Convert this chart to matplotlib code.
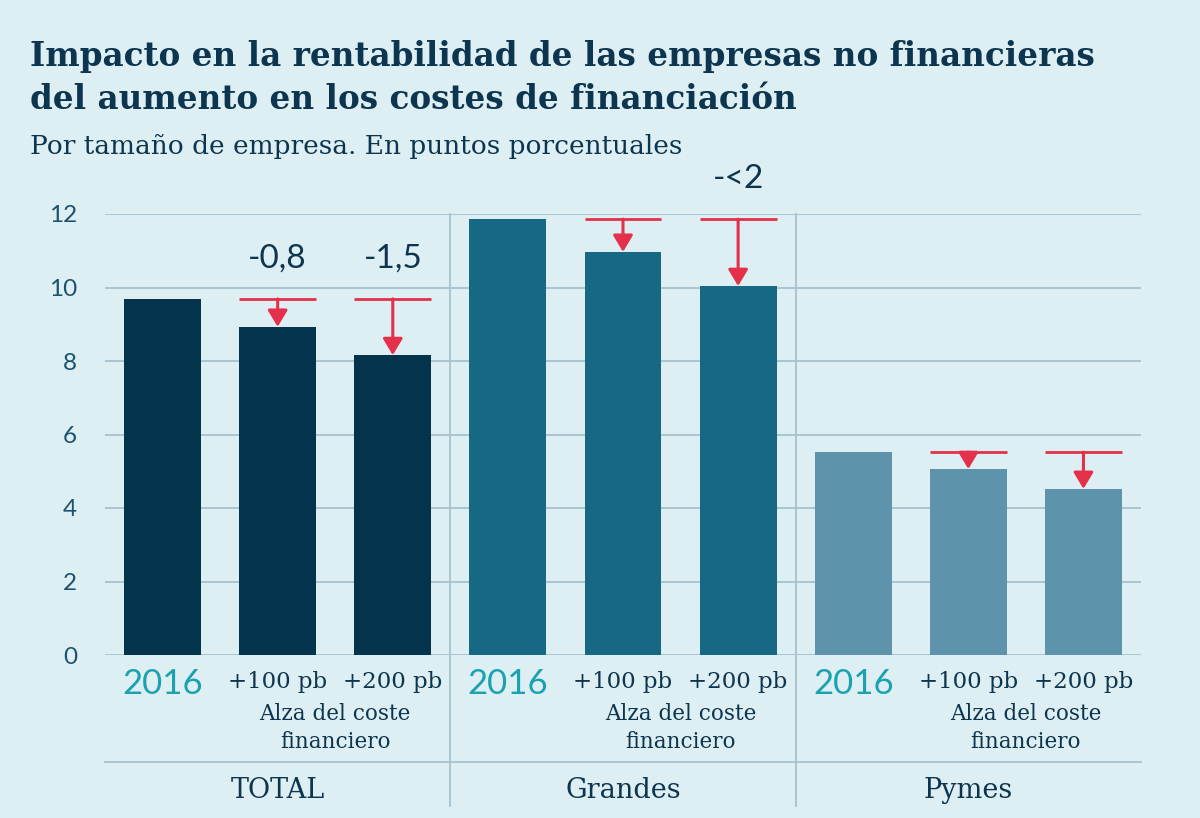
import numpy as np
import matplotlib.pyplot as plt

# values
groups = ['TOTAL', 'Grandes', 'Pymes']
scenarios = ['2016', '+100 pb', '+200 pb']
base_2016 = [9.69, 11.86, 5.52]
plus_100 = [8.93, 10.97, 5.06]
plus_200 = [8.16, 10.04, 4.52]
drop_labels = [['-0,8', '-1,5'], ['', '-<2'], ['', '']]
yticks = [0, 2, 4, 6, 8, 10, 12]

bg = '#deeff3'
bar_colors = ['#03344c', '#166885', '#5d93ab']
red = '#e5304c'
grid_c = '#a6c1ce'
dark = '#0c3550'
teal = '#1aa2b0'

fig = plt.figure(figsize=(12, 8.18), dpi=100, facecolor=bg)
ax = fig.add_axes([105 / 1200, 163 / 818, 1036 / 1200, 441 / 818])
ax.set_facecolor(bg)
ax.set_xlim(-0.5, 8.5)
ax.set_ylim(0, 12)
for s in ax.spines.values():
    s.set_visible(False)
ax.set_xticks([])
ax.set_yticks(yticks)
ax.set_yticklabels([str(t) for t in yticks], fontsize=17.5, color='#1a5370', family='Lato')
ax.tick_params(axis='y', length=0, pad=20)

ax.hlines(yticks, -0.5, 8.5, color=grid_c, lw=1.3, zorder=0)

def py(p):
    # pixel row -> data y
    return (655 - p) / 36.75

w = 0.667
for g in range(3):
    vals = [base_2016[g], plus_100[g], plus_200[g]]
    xs = np.arange(3) + 3 * g
    ax.bar(xs, vals, width=w, color=bar_colors[g], zorder=2)
    for k in (1, 2):
        x = xs[k]
        ax.hlines(base_2016[g], x - w / 2, x + w / 2, color=red, lw=2, zorder=3)
        ax.annotate('', xy=(x, vals[k]), xytext=(x, base_2016[g]),
                    arrowprops=dict(arrowstyle='-|>,head_length=0.5,head_width=0.3',
                                    color=red, lw=2.2, mutation_scale=20,
                                    shrinkA=0, shrinkB=0),
                    zorder=4)
        lab = drop_labels[g][k - 1]
        if lab:
            ax.text(x, base_2016[g] + 1.1, lab, ha='center', va='center',
                    fontsize=24, color=dark, family='Lato', clip_on=False)
    # category labels
    ax.text(xs[0], py(684), scenarios[0], ha='center', va='center', fontsize=25,
            color=teal, family='Lato', clip_on=False)
    for k in (1, 2):
        ax.text(xs[k], py(682), scenarios[k], ha='center', va='center', fontsize=16.5,
                color=dark, family='DejaVu Serif', clip_on=False)
    ax.text(xs[1] + 0.5, py(728), 'Alza del coste\nfinanciero', ha='center', va='center',
            fontsize=15.5, color=dark, family='DejaVu Serif', linespacing=1.3, clip_on=False)
    ax.text(xs[1], py(790), groups[g], ha='center', va='center', fontsize=19.5,
            color=dark, family='DejaVu Serif', clip_on=False)

# separators
for xd in (2.5, 5.5):
    ax.plot([xd, xd], [12, py(806)], color=grid_c, lw=1.3, clip_on=False, zorder=1)
ax.plot([-0.5, 8.5], [py(762), py(762)], color=grid_c, lw=1.3, clip_on=False, zorder=1)

fig.text(30 / 1200, 1 - 78 / 818, 'Impacto en la rentabilidad de las empresas no financieras\n'
         'del aumento en los costes de financiación', ha='left', va='center',
         fontsize=23.5, fontweight='bold', color=dark, family='DejaVu Serif', linespacing=1.35)
fig.text(30 / 1200, 1 - 146 / 818, 'Por tamaño de empresa. En puntos porcentuales',
         ha='left', va='center', fontsize=19, color=dark, family='DejaVu Serif')

fig.savefig('out.png', dpi=100, facecolor=bg)
